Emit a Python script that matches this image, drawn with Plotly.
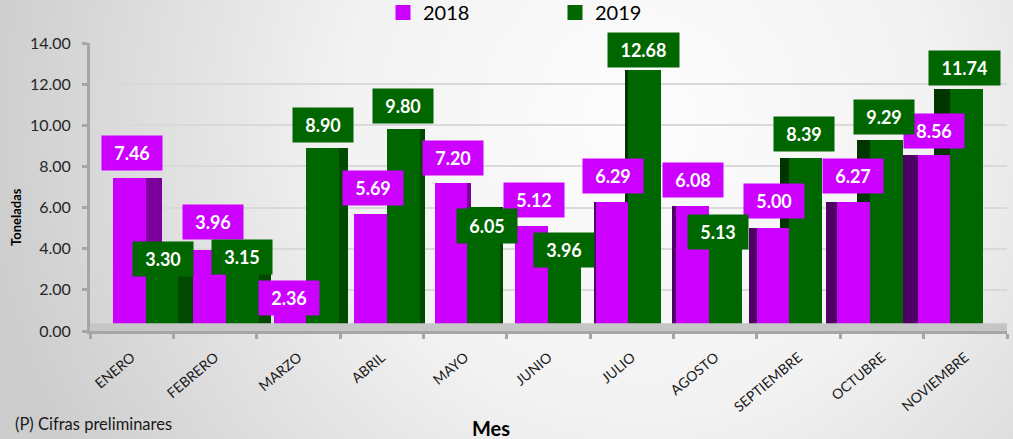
import base64
import plotly.graph_objects as go

# ---------------- data ----------------
MESES = ["ENERO", "FEBRERO", "MARZO", "ABRIL", "MAYO", "JUNIO", "JULIO",
         "AGOSTO", "SEPTIEMBRE", "OCTUBRE", "NOVIEMBRE"]
V2018 = [7.46, 3.96, 2.36, 5.69, 7.20, 5.12, 6.29, 6.08, 5.00, 6.27, 8.56]
V2019 = [3.30, 3.15, 8.90, 9.80, 6.05, 3.96, 12.68, 5.13, 8.39, 9.29, 11.74]
SERIES = ["2018", "2019"]
Y_TICKS = [0, 2, 4, 6, 8, 10, 12, 14]
NOTE = "(P) Cifras preliminares"
X_TITLE = "Mes"
Y_TITLE = "Toneladas"

# ---------------- style ----------------
C18, C19 = "#cc00ff", "#006600"
C18_SIDE_R, C18_SIDE_L = "#7d009e", "#4e0064"
C19_SIDE_R, C19_SIDE_L = "#004a00", "#003500"
FONT = "Lato"

# label nudges (pixels) to reproduce the hand-placed labels
DX18 = [3, 3, -1, 2, 2, 2, 1, 1, 1, 0, 0]
DY18 = [25, 28, -16, 26, 25, 26, 26, 26, 27, 26, 24]
DX19 = [1, 0, 0, 0, 3, 0, -1, -7, -2, -2, -2]
DY19 = [4, 9, 23, 23, -19, 0, 20, -7, 24, 23, 21]

W, H = 1013, 439
PX_L, PX_R, PY_T, PY_B = 90, 1007, 43, 331
U = 80.45          # px per bar group (perspective-compressed)
C0 = 145.5         # pixel of first bar group centre
XR = [-(C0 - PX_L) / U, -(C0 - PX_L) / U + (PX_R - PX_L) / U]

OFF18, WID18 = -0.404, 0.404
OFF19, WID19 = 0.0, 0.41
VP, PERSP = 560.0, 0.04   # vanishing point x (px) and side-face factor

n = len(MESES)
idx = list(range(n))


def px(k, u):
    return C0 + U * (k + u)


def side_geometry(off, wid, col_r, col_l):
    offs, wids, cols = [], [], []
    for k in idx:
        L, R = px(k, off), px(k, off + wid)
        if (L + R) / 2 < VP:
            Ls, Rs, c = L, R + PERSP * abs(R - VP), col_r
        else:
            Ls, Rs, c = L - PERSP * abs(L - VP), R, col_l
        offs.append((Ls - C0) / U - k)
        wids.append((Rs - Ls) / U)
        cols.append(c)
    return offs, wids, cols


fig = go.Figure()

o19s, w19s, c19s = side_geometry(OFF19, WID19, C19_SIDE_R, C19_SIDE_L)
o18s, w18s, c18s = side_geometry(OFF18, WID18, C18_SIDE_R, C18_SIDE_L)

fig.add_trace(go.Bar(x=idx, y=V2019, offset=o19s, width=w19s,
                     marker=dict(color=c19s, line_width=0),
                     showlegend=False, hoverinfo="skip"))
fig.add_trace(go.Bar(x=idx, y=V2018, offset=o18s, width=w18s,
                     marker=dict(color=c18s, line_width=0),
                     showlegend=False, hoverinfo="skip"))
fig.add_trace(go.Bar(x=idx, y=V2018, name=SERIES[0], offset=OFF18, width=WID18,
                     marker=dict(color=C18, line_width=0), showlegend=False))
fig.add_trace(go.Bar(x=idx, y=V2019, name=SERIES[1], offset=OFF19, width=WID19,
                     marker=dict(color=C19, line_width=0), showlegend=False))

# legend entries (square swatches)
for name, col in zip(SERIES, [C18, C19]):
    fig.add_trace(go.Scatter(x=[None], y=[None], name=name, mode="markers",
                             marker=dict(symbol="square", size=15, color=col)))

# invisible trace carrying the month categories on the label axis
fig.add_trace(go.Scatter(x=MESES, y=[0] * n, xaxis="x2", mode="markers",
                         marker=dict(opacity=0), showlegend=False,
                         hoverinfo="skip"))

# data labels
for vals, off, wid, dxs, dys, col in [(V2018, OFF18, WID18, DX18, DY18, C18),
                                      (V2019, OFF19, WID19, DX19, DY19, C19)]:
    for k, v in enumerate(vals):
        t = f"{v:.2f}"
        fig.add_annotation(x=k + off + wid / 2, y=v, xref="x", yref="y",
                           text=f"<b>{t}</b>", showarrow=False,
                           xshift=dxs[k], yshift=dys[k],
                           bgcolor=col, width=11 * len(t) + 16, height=34,
                           borderpad=0,
                           font=dict(family=FONT, size=18, color="white"))

# background gradient (whole page)
svg = (f"<svg xmlns='http://www.w3.org/2000/svg' width='{W}' height='{H}' "
       f"viewBox='0 0 {W} {H}' preserveAspectRatio='none'><defs>"
       "<radialGradient id='g' gradientUnits='userSpaceOnUse' cx='640' cy='120' r='660'>"
       "<stop offset='0' stop-color='#fdfdfd'/><stop offset='0.45' stop-color='#f2f2f2'/>"
       "<stop offset='1' stop-color='#cdcdcd'/></radialGradient></defs>"
       f"<rect width='{W}' height='{H}' fill='url(#g)'/></svg>")
src = "data:image/svg+xml;base64," + base64.b64encode(svg.encode()).decode()
pw, ph = PX_R - PX_L, PY_B - PY_T
fig.add_layout_image(source=src, xref="paper", yref="paper",
                     x=-PX_L / pw, y=1 + PY_T / ph, sizex=W / pw, sizey=H / ph,
                     xanchor="left", yanchor="top", sizing="stretch",
                     layer="below")

# floor strip
fig.add_shape(type="rect", xref="paper", yref="y", x0=0, x1=1, y0=0, y1=0.38,
              fillcolor="#c6c6c6", line_width=0, layer="above")

# texts
fig.add_annotation(text=NOTE, xref="paper", yref="paper",
                   x=(13 - PX_L) / pw, y=-(424 - PY_B) / ph,
                   xanchor="left", yanchor="middle", showarrow=False,
                   font=dict(family=FONT, size=16.5, color="#1a1a1a"))
fig.add_annotation(text=f"<b>{X_TITLE}</b>", xref="paper", yref="paper",
                   x=(491 - PX_L) / pw, y=-(428 - PY_B) / ph,
                   xanchor="center", yanchor="middle", showarrow=False,
                   font=dict(family=FONT, size=20, color="#000000"))
fig.add_annotation(text=f"<b>{Y_TITLE}</b>", xref="paper", yref="paper",
                   x=(16 - PX_L) / pw, y=(PY_B - 217) / ph, textangle=-90,
                   xanchor="center", yanchor="middle", showarrow=False,
                   font=dict(family=FONT, size=13, color="#000000"))

fig.update_layout(
    width=W, height=H,
    margin=dict(l=PX_L, r=W - PX_R, t=PY_T, b=H - PY_B, pad=0,
                autoexpand=False),
    paper_bgcolor="#ececec", plot_bgcolor="rgba(0,0,0,0)",
    barmode="overlay", bargap=0,
    font=dict(family=FONT, color="#262626"),
    xaxis=dict(range=XR, showticklabels=False, showgrid=False, zeroline=False,
               showline=False, ticks=""),
    xaxis2=dict(overlaying="x", anchor="y", side="bottom", type="category",
                range=[-0.5, n - 0.5], tickson="boundaries", ticks="outside",
                ticklen=5, tickwidth=3, tickcolor="#a6a6a6",
                showline=True, linecolor="#a6a6a6", linewidth=3,
                showgrid=False, zeroline=False, tickangle=-40,
                ticklabelstandoff=10,
                tickfont=dict(family=FONT, size=14, color="#1a1a1a")),
    yaxis=dict(range=[0, 14], tickvals=Y_TICKS, tickformat=".2f",
               ticks="outside", ticklen=5, tickwidth=3, tickcolor="#a6a6a6",
               showline=True, linecolor="#a6a6a6", linewidth=3,
               gridcolor="#d9d9d9", gridwidth=2, zeroline=False,
               ticklabelstandoff=8,
               tickfont=dict(family=FONT, size=16, color="#262626")),
    legend=dict(orientation="h", x=(383 - PX_L) / pw, y=1 + (PY_T + 7) / ph,
                xanchor="left", yanchor="top", entrywidth=127,
                bgcolor="rgba(0,0,0,0)",
                font=dict(family=FONT, size=20, color="#000000")),
)

fig.write_html("out.html", config={"displayModeBar": False},
               post_script="document.body.style.margin='0';"
                           "document.body.style.padding='0';")
